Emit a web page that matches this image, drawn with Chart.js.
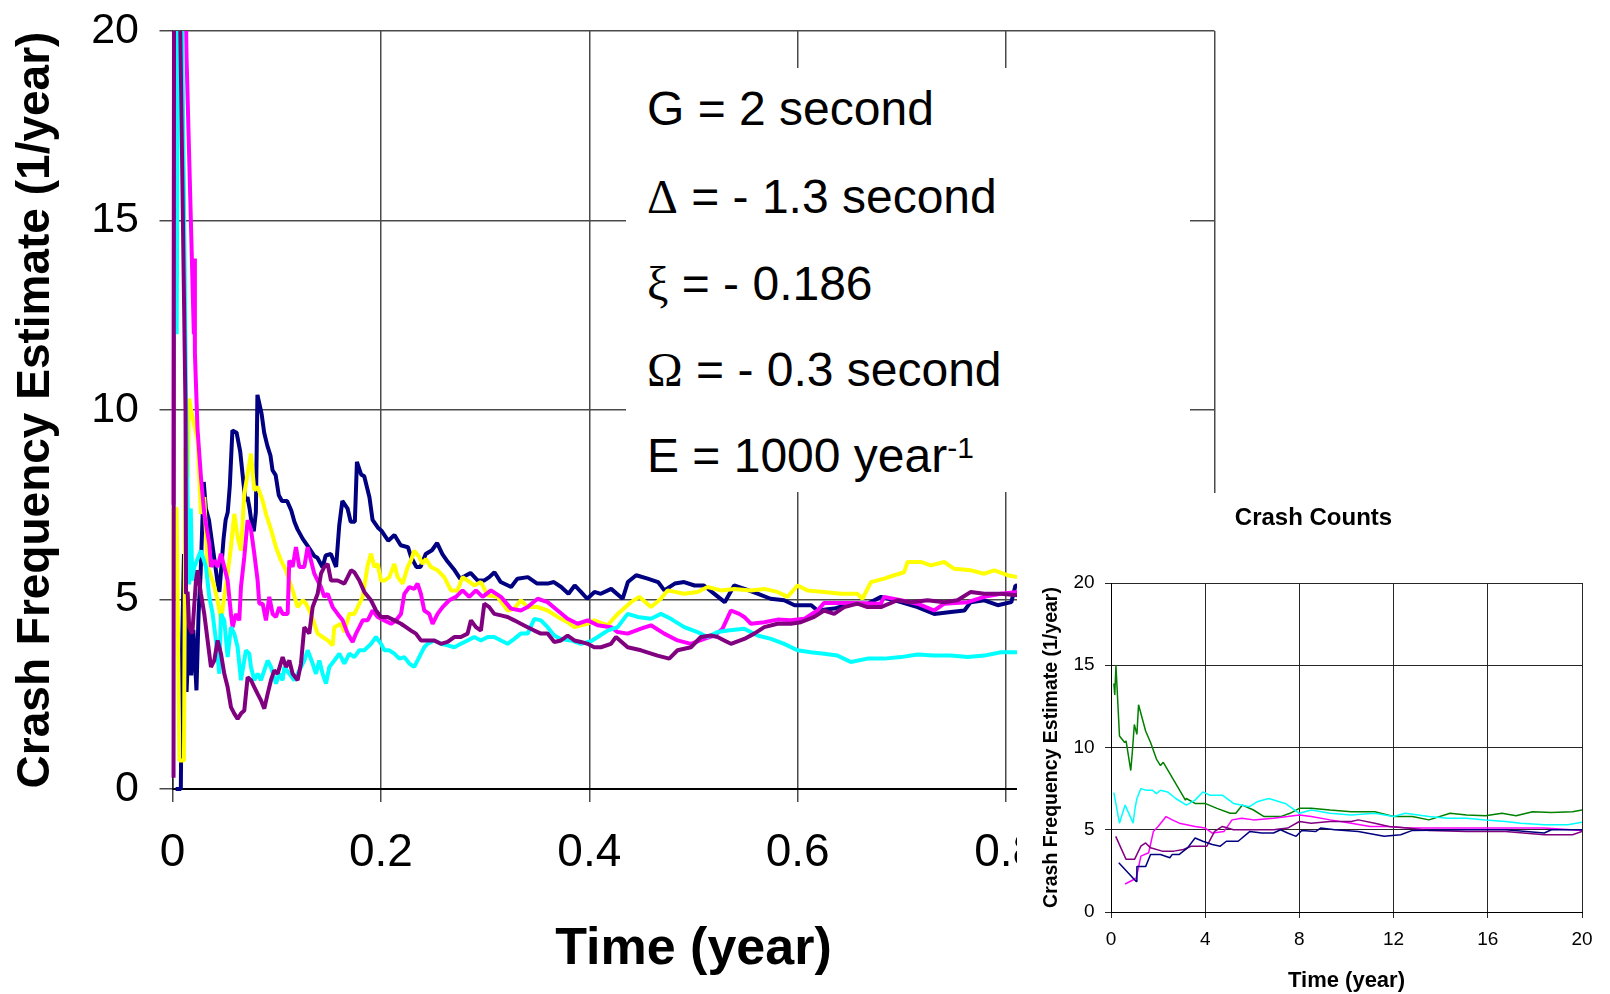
<!DOCTYPE html>
<html><head><meta charset="utf-8">
<script src="https://cdn.jsdelivr.net/npm/chart.js@4.4.1/dist/chart.umd.min.js"></script>
<style>
html,body{margin:0;padding:0;background:#fff;width:1610px;height:994px;overflow:hidden;}
#main{position:absolute;left:0;top:0;}
#box{position:absolute;left:626px;top:68px;width:564px;height:424px;background:#fff;}
.ln{position:absolute;left:21px;font-family:'Liberation Sans',Arial,sans-serif;font-size:48px;line-height:48px;white-space:nowrap;color:#000;}
.gr{font-family:'Liberation Serif','Times New Roman',serif;}
.sp{font-size:30px;position:relative;top:-14px;}
#inset{position:absolute;left:1017px;top:493px;width:593px;height:501px;background:#fff;}
</style>
</head><body>
<canvas id="main" width="1610" height="994"></canvas>
<div id="box">
  <div class="ln" style="top:17px">G = 2 second</div>
  <div class="ln" style="top:105px"><span class="gr">Δ</span> = - 1.3 second</div>
  <div class="ln" style="top:192px"><span class="gr">ξ</span> = - 0.186</div>
  <div class="ln" style="top:278px"><span class="gr">Ω</span> = - 0.3 second</div>
  <div class="ln" style="top:364px">E = 1000 year<span class="sp">-1</span></div>
</div>
<div id="inset"><canvas id="ins" width="593" height="501"></canvas></div>
<script>
// ---------- main chart data: [time (year), estimate (1/year)] ----------
const mainNavy = [[0.003,0],[0.008,0],[0.009,3.5],[0.011,6.2],[0.0135,2.56],[0.016,4.4],[0.018,3.0],[0.020,4.2],[0.023,2.6],[0.025,4.6],[0.027,5.7],[0.030,8.1],[0.032,7.4],[0.035,7.1],[0.038,6.5],[0.041,5.9],[0.043,5.5],[0.045,5.2],[0.047,5.9],[0.049,6.6],[0.051,7.1],[0.053,7.3],[0.055,8.0],[0.0575,9.46],[0.0615,9.4],[0.065,8.9],[0.068,8.1],[0.070,7.6],[0.072,7.7],[0.074,7.4],[0.076,7.0],[0.078,6.8],[0.080,7.3],[0.0815,10.4],[0.0855,9.9],[0.088,9.4],[0.091,9.06],[0.094,8.8],[0.096,8.41],[0.099,8.28],[0.102,7.75],[0.105,7.6],[0.110,7.6],[0.114,7.35],[0.117,7.05],[0.120,6.85],[0.125,6.6],[0.130,6.4],[0.136,6.15],[0.139,6.1],[0.144,5.85],[0.147,6.16],[0.152,6.2],[0.157,5.86],[0.160,6.95],[0.163,7.6],[0.168,7.4],[0.171,7.05],[0.175,7.05],[0.177,8.63],[0.181,8.3],[0.184,8.25],[0.189,7.7],[0.192,7.1],[0.197,6.9],[0.201,6.8],[0.207,6.55],[0.213,6.7],[0.219,6.43],[0.226,6.38],[0.229,6.12],[0.234,5.86],[0.238,5.86],[0.243,6.2],[0.249,6.3],[0.254,6.49],[0.259,6.2],[0.264,6.0],[0.270,5.8],[0.276,5.55],[0.282,5.64],[0.286,5.7],[0.293,5.5],[0.299,5.5],[0.304,5.59],[0.309,5.72],[0.315,5.46],[0.325,5.33],[0.331,5.55],[0.341,5.59],[0.350,5.42],[0.360,5.42],[0.366,5.46],[0.373,5.33],[0.380,5.15],[0.386,5.37],[0.392,5.2],[0.398,5.02],[0.405,5.2],[0.411,5.15],[0.421,5.28],[0.432,5.02],[0.437,5.46],[0.445,5.64],[0.456,5.55],[0.466,5.46],[0.472,5.24],[0.482,5.42],[0.491,5.46],[0.501,5.37],[0.510,5.37],[0.520,5.15],[0.530,4.93],[0.539,5.37],[0.549,5.28],[0.562,5.15],[0.574,5.02],[0.587,4.98],[0.597,4.85],[0.613,4.85],[0.619,4.71],[0.635,4.76],[0.651,4.89],[0.667,4.89],[0.680,5.07],[0.699,4.93],[0.715,4.80],[0.731,4.62],[0.747,4.67],[0.760,4.71],[0.766,4.93],[0.779,4.98],[0.792,4.85],[0.805,4.93],[0.809,5.37],[0.83,5.3]];
const mainYellow = [[0.0005,5.0],[0.001,7.4],[0.004,7.4],[0.0066,0.75],[0.011,0.75],[0.0125,9.0],[0.0145,8.2],[0.016,10.3],[0.0178,10.0],[0.0241,9.2],[0.0273,7.26],[0.0305,7.70],[0.0337,5.86],[0.0385,5.50],[0.0433,4.98],[0.0465,4.45],[0.0497,5.07],[0.0529,5.68],[0.0561,6.38],[0.0593,7.26],[0.0625,6.65],[0.0657,6.29],[0.0689,7.79],[0.0721,8.32],[0.0753,8.85],[0.0785,7.88],[0.0817,7.97],[0.0865,7.61],[0.0897,7.26],[0.0945,6.85],[0.0993,6.38],[0.1041,6.03],[0.1089,5.77],[0.1121,5.50],[0.1153,5.24],[0.1201,4.80],[0.1249,4.98],[0.1281,4.89],[0.1329,4.62],[0.1361,4.36],[0.1393,4.10],[0.1441,4.01],[0.1489,3.92],[0.1537,3.79],[0.1553,4.27],[0.1617,4.36],[0.1649,4.14],[0.1697,4.62],[0.1745,4.62],[0.1777,4.80],[0.1825,5.07],[0.1873,5.90],[0.1905,6.21],[0.1937,5.86],[0.1969,5.94],[0.2001,5.50],[0.2033,5.50],[0.2081,5.59],[0.2129,5.94],[0.2161,5.59],[0.2209,5.42],[0.2257,5.86],[0.2289,6.03],[0.2320,6.29],[0.2368,6.12],[0.2400,5.94],[0.2432,6.07],[0.2480,5.86],[0.2544,5.77],[0.2608,5.59],[0.2672,5.24],[0.2736,5.24],[0.2784,5.59],[0.2832,5.50],[0.2896,5.37],[0.2960,5.46],[0.3024,5.11],[0.3120,5.07],[0.3216,4.71],[0.3280,4.76],[0.3343,4.98],[0.3408,4.80],[0.3504,4.80],[0.3600,4.71],[0.3696,4.54],[0.3792,4.40],[0.3856,4.27],[0.3920,4.32],[0.3984,4.36],[0.4048,4.45],[0.4176,4.32],[0.4272,4.62],[0.4400,4.93],[0.4480,5.07],[0.4592,4.80],[0.4687,5.02],[0.4751,5.24],[0.4911,5.15],[0.5039,5.20],[0.5135,5.33],[0.5263,5.24],[0.5391,5.28],[0.5551,5.24],[0.5679,5.28],[0.5806,5.20],[0.5902,5.07],[0.5998,5.37],[0.6094,5.24],[0.6254,5.20],[0.6414,5.15],[0.6574,5.15],[0.6622,5.02],[0.6702,5.46],[0.6830,5.55],[0.6926,5.64],[0.7022,5.72],[0.7054,5.99],[0.7182,5.99],[0.7278,5.90],[0.7406,5.99],[0.7502,5.81],[0.7662,5.77],[0.7790,5.68],[0.7886,5.77],[0.8014,5.64],[0.8110,5.59],[0.83,5.5]];
const mainMagenta = [[0.001,7.5],[0.0015,22],[0.012,22],[0.0135,19.3],[0.0205,12.0],[0.021,14.0],[0.0215,11.5],[0.024,9.5],[0.0273,8.23],[0.0305,7.26],[0.0353,6.47],[0.0369,5.86],[0.0401,6.03],[0.0433,5.86],[0.0465,6.21],[0.0497,5.86],[0.0529,5.50],[0.0561,4.62],[0.0577,4.27],[0.0609,4.62],[0.0641,4.45],[0.0657,5.33],[0.0689,6.12],[0.0721,7.09],[0.0753,6.85],[0.0785,6.21],[0.0817,5.50],[0.0833,4.89],[0.0865,4.89],[0.0897,4.45],[0.0929,5.07],[0.0961,4.62],[0.0993,4.54],[0.1025,4.80],[0.1057,4.62],[0.1105,4.62],[0.1121,6.03],[0.1153,5.86],[0.1185,6.38],[0.1217,5.86],[0.1265,5.86],[0.1297,6.38],[0.1329,6.03],[0.1361,5.68],[0.1393,5.50],[0.1425,5.33],[0.1457,5.07],[0.1489,5.15],[0.1537,4.80],[0.1585,4.62],[0.1633,4.45],[0.1681,4.10],[0.1729,3.88],[0.1761,4.10],[0.1793,4.27],[0.1825,4.45],[0.1873,4.45],[0.1921,4.71],[0.1969,4.54],[0.2033,4.45],[0.2097,4.36],[0.2145,4.45],[0.2193,4.62],[0.2225,5.15],[0.2273,5.33],[0.2320,5.28],[0.2352,5.42],[0.2384,5.15],[0.2416,4.71],[0.2464,4.62],[0.2496,4.36],[0.2544,4.62],[0.2592,4.80],[0.2656,4.98],[0.2720,5.07],[0.2784,5.24],[0.2848,5.07],[0.2912,5.24],[0.2976,5.07],[0.3056,5.24],[0.3152,5.07],[0.3248,4.76],[0.3343,4.71],[0.3408,4.80],[0.3504,5.02],[0.3600,4.93],[0.3696,4.71],[0.3792,4.49],[0.3888,4.36],[0.3984,4.45],[0.4080,4.32],[0.4208,4.27],[0.4272,4.14],[0.4368,4.10],[0.4496,4.23],[0.4592,4.32],[0.4719,4.10],[0.4847,3.92],[0.4975,3.83],[0.5103,3.96],[0.5199,4.05],[0.5279,4.23],[0.5359,4.71],[0.5439,4.62],[0.5487,4.54],[0.5551,4.36],[0.5679,4.40],[0.5806,4.47],[0.5934,4.45],[0.6062,4.49],[0.6190,4.71],[0.6254,4.91],[0.6510,4.91],[0.6798,4.89],[0.6830,5.07],[0.6990,4.98],[0.7150,4.89],[0.7310,4.71],[0.7406,4.89],[0.7630,4.93],[0.7790,5.07],[0.7950,5.15],[0.8110,5.20],[0.83,5.2]];
const mainCyan = [[0.004,12.0],[0.0055,22],[0.0085,22],[0.013,10.3],[0.0145,7.6],[0.016,5.4],[0.0175,7.4],[0.019,5.5],[0.0209,5.86],[0.0273,6.29],[0.0321,5.86],[0.0353,5.07],[0.0385,4.62],[0.0417,3.92],[0.0449,3.04],[0.0465,4.62],[0.0497,4.45],[0.0529,3.48],[0.0561,4.27],[0.0593,4.10],[0.0625,3.74],[0.0657,2.87],[0.0705,3.66],[0.0737,3.57],[0.0753,3.22],[0.0785,2.87],[0.0817,3.04],[0.0849,2.87],[0.0881,3.13],[0.0913,3.39],[0.0945,3.22],[0.0993,2.78],[0.1025,3.04],[0.1057,2.87],[0.1073,3.22],[0.1121,3.04],[0.1169,2.87],[0.1217,3.13],[0.1265,3.39],[0.1297,3.66],[0.1345,3.31],[0.1377,3.04],[0.1409,3.39],[0.1441,3.04],[0.1473,2.78],[0.1505,3.22],[0.1553,3.39],[0.1601,3.57],[0.1649,3.31],[0.1697,3.57],[0.1745,3.48],[0.1793,3.66],[0.1841,3.66],[0.1905,3.83],[0.1953,4.01],[0.2001,3.83],[0.2033,3.66],[0.2081,3.66],[0.2129,3.57],[0.2177,3.44],[0.2225,3.48],[0.2273,3.31],[0.2320,3.22],[0.2368,3.48],[0.2416,3.74],[0.2448,3.83],[0.2512,3.92],[0.2576,3.83],[0.2640,3.79],[0.2704,3.74],[0.2768,3.83],[0.2832,3.92],[0.2896,4.01],[0.2960,3.92],[0.3024,4.01],[0.3088,4.01],[0.3152,3.92],[0.3216,3.83],[0.3280,3.96],[0.3343,4.10],[0.3408,4.10],[0.3472,4.49],[0.3536,4.45],[0.3600,4.27],[0.3664,4.05],[0.3728,3.96],[0.3824,3.92],[0.3920,3.83],[0.4016,3.90],[0.4080,4.01],[0.4176,4.18],[0.4272,4.27],[0.4368,4.62],[0.4464,4.54],[0.4592,4.49],[0.4687,4.62],[0.4783,4.49],[0.4911,4.27],[0.5039,4.14],[0.5135,4.01],[0.5231,4.14],[0.5327,4.18],[0.5487,4.23],[0.5615,4.05],[0.5743,3.96],[0.5870,3.83],[0.5998,3.66],[0.6126,3.61],[0.6254,3.57],[0.6382,3.52],[0.6510,3.35],[0.6670,3.44],[0.6830,3.44],[0.6990,3.48],[0.7150,3.55],[0.7310,3.52],[0.7470,3.52],[0.7630,3.48],[0.7790,3.52],[0.7950,3.61],[0.8110,3.61],[0.83,3.6]];
const mainPurple = [[0.001,0.3],[0.0015,22],[0.0065,22],[0.0125,10.0],[0.013,5.15],[0.0145,5.2],[0.016,4.27],[0.019,4.1],[0.0225,5.5],[0.0241,5.77],[0.0273,5.15],[0.0305,4.62],[0.0337,3.92],[0.0369,3.22],[0.0401,3.39],[0.0433,3.92],[0.0465,3.57],[0.0497,3.04],[0.0529,2.69],[0.0561,2.16],[0.0593,1.99],[0.0625,1.85],[0.0657,1.99],[0.0689,2.07],[0.0721,2.95],[0.0753,2.87],[0.0785,2.69],[0.0817,2.51],[0.0849,2.34],[0.0881,2.12],[0.0913,2.51],[0.0945,2.87],[0.0977,3.13],[0.1009,3.04],[0.1057,3.48],[0.1089,3.22],[0.1121,3.39],[0.1153,3.04],[0.1201,2.87],[0.1233,3.31],[0.1265,4.27],[0.1313,4.10],[0.1345,4.80],[0.1393,5.15],[0.1425,5.68],[0.1457,5.86],[0.1489,5.94],[0.1521,5.50],[0.1585,5.50],[0.1649,5.42],[0.1681,5.59],[0.1713,5.77],[0.1745,5.72],[0.1793,5.50],[0.1841,5.20],[0.1905,4.98],[0.1953,4.71],[0.2001,4.54],[0.2065,4.54],[0.2129,4.45],[0.2193,4.36],[0.2241,4.27],[0.2289,4.18],[0.2336,4.10],[0.2384,3.92],[0.2448,3.92],[0.2512,3.92],[0.2576,3.83],[0.2640,3.88],[0.2704,4.01],[0.2768,4.01],[0.2832,4.10],[0.2864,4.45],[0.2912,4.27],[0.2960,4.18],[0.2992,4.89],[0.3040,4.80],[0.3088,4.62],[0.3152,4.58],[0.3216,4.54],[0.3280,4.45],[0.3343,4.36],[0.3408,4.27],[0.3472,4.18],[0.3536,4.10],[0.3600,4.10],[0.3664,3.88],[0.3728,3.92],[0.3792,4.05],[0.3856,3.92],[0.3920,3.88],[0.3984,3.83],[0.4047,3.74],[0.4112,3.74],[0.4208,3.83],[0.4256,4.01],[0.4368,3.74],[0.4496,3.66],[0.4655,3.52],[0.4767,3.44],[0.4847,3.66],[0.4975,3.74],[0.5071,4.01],[0.5167,4.05],[0.5231,4.01],[0.5295,3.92],[0.5359,3.83],[0.5487,3.96],[0.5583,4.10],[0.5679,4.27],[0.5806,4.36],[0.5934,4.36],[0.6030,4.40],[0.6158,4.54],[0.6254,4.71],[0.6350,4.62],[0.6446,4.80],[0.6574,4.89],[0.6670,4.80],[0.6798,4.80],[0.6958,4.98],[0.7086,4.93],[0.7246,4.98],[0.7406,4.93],[0.7534,4.98],[0.7662,5.20],[0.7790,5.15],[0.7950,5.15],[0.8110,5.11],[0.83,5.1]];
const mainXTickLabels = ['0','0.2','0.4','0.6','0.8','1'];
const mainYTickLabels = ['0','5','10','15','20'];

// ---------- inset chart data ----------
const insetGreen = [[0.12,13.9],[0.16,13.2],[0.21,15.0],[0.36,10.7],[0.58,10.3],[0.64,10.4],[0.84,8.6],[0.91,9.8],[0.99,11.4],[1.10,10.8],[1.17,12.6],[1.47,11.0],[1.68,10.3],[1.93,9.3],[2.10,8.9],[2.22,9.1],[3.08,7.0],[3.16,6.8],[3.20,6.9],[3.57,6.6],[3.99,6.6],[4.50,6.3],[5.06,6.0],[5.30,6.0],[5.58,6.5],[6.05,6.2],[6.50,5.8],[7.20,5.8],[7.60,6.0],[8.00,6.3],[8.50,6.3],[9.30,6.2],[10.2,6.1],[11.2,6.1],[12.0,5.8],[12.8,5.8],[13.5,5.6],[14.4,6.0],[15.1,5.9],[15.9,5.85],[16.6,6.0],[17.2,5.85],[17.9,6.1],[18.7,6.05],[19.6,6.1],[20,6.2]];
const insetCyan = [[0.12,7.25],[0.36,5.4],[0.60,6.5],[0.94,5.4],[1.02,6.3],[1.10,6.9],[1.27,7.5],[1.50,7.4],[1.76,7.4],[1.93,7.2],[2.10,7.4],[2.40,7.3],[2.75,6.9],[3.20,6.5],[3.57,6.8],[3.90,7.3],[4.20,7.1],[4.73,7.1],[5.20,6.6],[5.88,6.4],[6.20,6.7],[6.70,6.9],[7.40,6.6],[8.00,6.0],[8.50,6.2],[9.30,6.0],[10.2,5.9],[11.2,6.0],[12.0,5.8],[12.5,6.0],[13.5,5.8],[14.3,5.7],[15.1,5.7],[15.9,5.6],[16.75,5.5],[17.4,5.4],[18.4,5.3],[19.4,5.3],[20,5.45]];
const insetMagenta = [[0.60,1.7],[1.07,2.05],[1.27,3.4],[1.60,3.6],[1.80,4.9],[2.00,5.2],[2.34,5.8],[2.60,5.6],[2.90,5.4],[3.57,5.2],[4.00,5.1],[4.30,4.8],[4.80,4.9],[5.14,5.6],[5.55,5.7],[6.05,5.6],[6.90,5.7],[7.50,5.8],[8.00,5.9],[8.50,5.8],[9.30,5.6],[10.2,5.4],[11.0,5.2],[11.8,5.2],[12.6,5.1],[13.5,5.1],[14.3,5.1],[15.1,5.1],[16.75,5.1],[18.4,5.1],[20,4.95]];
const insetPurple = [[0.20,4.6],[0.64,3.2],[1.00,3.2],[1.27,4.0],[1.47,4.2],[1.68,3.9],[2.17,3.7],[2.67,3.7],[3.08,3.8],[3.40,4.0],[3.80,4.0],[4.07,4.0],[4.40,4.9],[4.73,5.2],[5.20,5.0],[5.88,5.0],[6.90,5.0],[7.50,5.1],[8.00,5.5],[8.50,5.4],[9.30,5.5],[10.2,5.5],[10.5,5.6],[11.2,5.4],[11.8,5.2],[12.6,5.1],[13.5,4.95],[15.1,4.9],[16.75,4.9],[18.4,4.7],[19.6,4.7],[20,4.9]];
const insetNavy = [[0.33,3.0],[1.07,1.85],[1.10,2.76],[1.47,2.76],[1.68,3.5],[2.10,3.5],[2.50,3.3],[2.60,3.5],[2.90,3.5],[3.25,3.9],[3.57,4.5],[3.90,4.3],[4.30,4.1],[4.64,4.0],[4.90,4.3],[5.40,4.3],[5.90,4.9],[6.40,4.8],[6.90,4.8],[7.20,5.0],[7.50,4.8],[7.86,4.6],[8.10,4.96],[8.70,4.9],[8.90,5.1],[9.50,5.0],[10.5,4.9],[11.6,4.6],[12.3,4.7],[12.8,4.96],[15.1,5.0],[16.75,5.0],[18.4,4.8],[18.7,5.0],[20,5.0]];
const insetXTickLabels = ['0','4','8','12','16','20'];
const insetYTickLabels = ['0','5','10','15','20'];

const FONT = "'Liberation Sans', Arial, sans-serif";

function ds(data, color, width) {
  return {data: data, borderColor: color, backgroundColor: color, borderWidth: width,
          pointRadius: 0, tension: 0, fill: false, borderJoinStyle: 'bevel',
          clip: {left: 3, top: 0, right: 0, bottom: 3}};
}

new Chart(document.getElementById('main'), {
  type: 'line',
  data: {datasets: [
    ds(mainPurple, '#800080', 4),
    ds(mainCyan, '#00FFFF', 4),
    ds(mainMagenta, '#FF00FF', 4),
    ds(mainYellow, '#FFFF00', 4),
    ds(mainNavy, '#000080', 4)
  ]},
  options: {
    responsive: false, animation: false, devicePixelRatio: 1,
    layout: {padding: {left: 0, top: 31, right: 395.5, bottom: 0}},
    plugins: {legend: {display: false}, tooltip: {enabled: false}, title: {display: false}},
    scales: {
      x: {
        type: 'linear', min: 0, max: 1,
        afterFit: s => { s.height = 205; s.paddingLeft = 0; s.paddingRight = 0; },
        ticks: {stepSize: 0.2, padding: 24, autoSkip: false, maxRotation: 0, color: '#000',
                font: {family: FONT, size: 46},
                callback: v => mainXTickLabels[Math.round(v / 0.2)]},
        grid: {color: '#4a4a4a', lineWidth: 1.5, tickLength: 13, drawTicks: true},
        border: {color: '#000', width: 2},
        title: {display: true, text: 'Time (year)', color: '#000',
                font: {family: FONT, size: 52, weight: 'bold'}, padding: {top: 0, bottom: 12.8}}
      },
      y: {
        type: 'linear', min: 0, max: 20,
        afterFit: s => { s.width = 172.5; s.paddingTop = 0; s.paddingBottom = 0; },
        ticks: {stepSize: 5, padding: 20.5, color: '#000', font: {family: FONT, size: 43},
                callback: v => mainYTickLabels[Math.round(v / 5)]},
        grid: {color: '#4a4a4a', lineWidth: 1.5, tickLength: 13, drawTicks: true},
        border: {color: '#202020', width: 1.5},
        title: {display: true, text: 'Crash Frequency Estimate (1/year)', color: '#000',
                font: {family: FONT, size: 46, weight: 'bold'}, padding: {top: 8.4, bottom: 0}}
      }
    }
  }
});

new Chart(document.getElementById('ins'), {
  type: 'line',
  data: {datasets: [
    ds(insetNavy, '#000080', 1.5),
    ds(insetPurple, '#800080', 1.5),
    ds(insetMagenta, '#FF00FF', 1.5),
    ds(insetCyan, '#00FFFF', 1.5),
    ds(insetGreen, '#008000', 1.5)
  ]},
  options: {
    responsive: false, animation: false, devicePixelRatio: 1,
    layout: {padding: {left: 28, top: 0, right: 28, bottom: 0}},
    plugins: {legend: {display: false}, tooltip: {enabled: false},
      title: {display: true, text: 'Crash Counts', color: '#000',
              font: {family: FONT, size: 24, weight: 'bold'}, padding: {top: 11, bottom: 50.2}}},
    scales: {
      x: {
        type: 'linear', min: 0, max: 20,
        afterFit: s => { s.height = 82; },
        ticks: {stepSize: 4, padding: 10, autoSkip: false, maxRotation: 0, color: '#000',
                font: {family: FONT, size: 19},
                callback: v => insetXTickLabels[Math.round(v / 4)]},
        grid: {color: '#262626', lineWidth: 1, tickLength: 6},
        border: {color: '#000', width: 1},
        title: {display: true, text: 'Time (year)', color: '#000',
                font: {family: FONT, size: 22, weight: 'bold'}, padding: {top: 0, bottom: 0.2}}
      },
      y: {
        type: 'linear', min: 0, max: 20,
        afterFit: s => { s.width = 66; },
        ticks: {stepSize: 5, padding: 10.4, color: '#000', font: {family: FONT, size: 19},
                callback: v => insetYTickLabels[Math.round(v / 5)]},
        grid: {color: '#262626', lineWidth: 1, tickLength: 6},
        border: {color: '#000', width: 1},
        title: {display: true, text: 'Crash Frequency Estimate (1/year)', color: '#000',
                font: {family: FONT, size: 19.5, weight: 'bold', lineHeight: 0.5}, padding: {top: 1.6, bottom: 0}}
      }
    }
  }
});
</script>
</body></html>
